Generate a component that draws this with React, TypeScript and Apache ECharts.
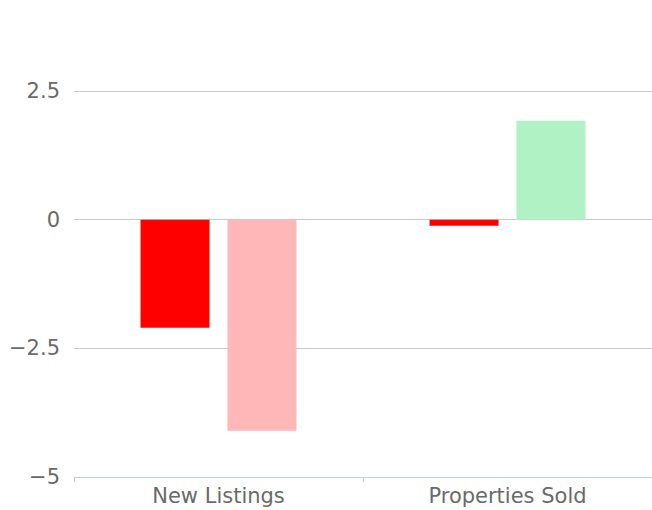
import React, { useEffect, useRef } from "react";
import * as echarts from "echarts";

const categories = ["New Listings", "Properties Sold"];
const seriesA = [-2.1, -0.12];
const seriesB = [-4.1, 1.92];
const yTicks = { min: -5, max: 2.5, interval: 2.5 };

const colorFor = (v: number, light: boolean) =>
  v < 0 ? (light ? "#ffb7b7" : "#ff0000") : light ? "#b0f2c3" : "#00cc44";

export default function App() {
  const ref = useRef<HTMLDivElement>(null);
  useEffect(() => {
    const chart = echarts.init(ref.current!, undefined, { renderer: "svg" });
    const font = "DejaVu Sans";
    chart.setOption({
      animation: false,
      grid: { left: 74, top: 91, bottom: 33, width: 583 },
      xAxis: {
        type: "category",
        data: categories,
        axisLine: { onZero: false, lineStyle: { color: "#c0d0e0", width: 1 } },
        axisTick: { show: true, length: 5, lineStyle: { color: "#c0d0e0" } },
        axisLabel: { color: "#6a6a6a", fontFamily: font, fontSize: 21, margin: 8 },
        splitLine: { show: false },
      },
      yAxis: {
        type: "value",
        min: yTicks.min,
        max: yTicks.max,
        interval: yTicks.interval,
        axisLine: { show: false },
        axisTick: { show: false },
        axisLabel: {
          color: "#6a6a6a",
          fontFamily: font,
          fontSize: 21,
          margin: 14,
          formatter: (v: number) => String(v).replace("-", "\u2212"),
        },
        splitLine: { lineStyle: { color: "#c8c8c8", width: 1 } },
      },
      series: [
        {
          type: "bar",
          barWidth: 69,
          barGap: "26%",
          data: seriesA.map((v) => ({ value: v, itemStyle: { color: colorFor(v, false) } })),
        },
        {
          type: "bar",
          barWidth: 69,
          data: seriesB.map((v) => ({ value: v, itemStyle: { color: colorFor(v, true) } })),
        },
      ],
    });
    return () => chart.dispose();
  }, []);
  return (
    <div
      ref={ref}
      style={{ position: "absolute", left: 0, top: 0, width: 652, height: 510, background: "#fff" }}
    />
  );
}
